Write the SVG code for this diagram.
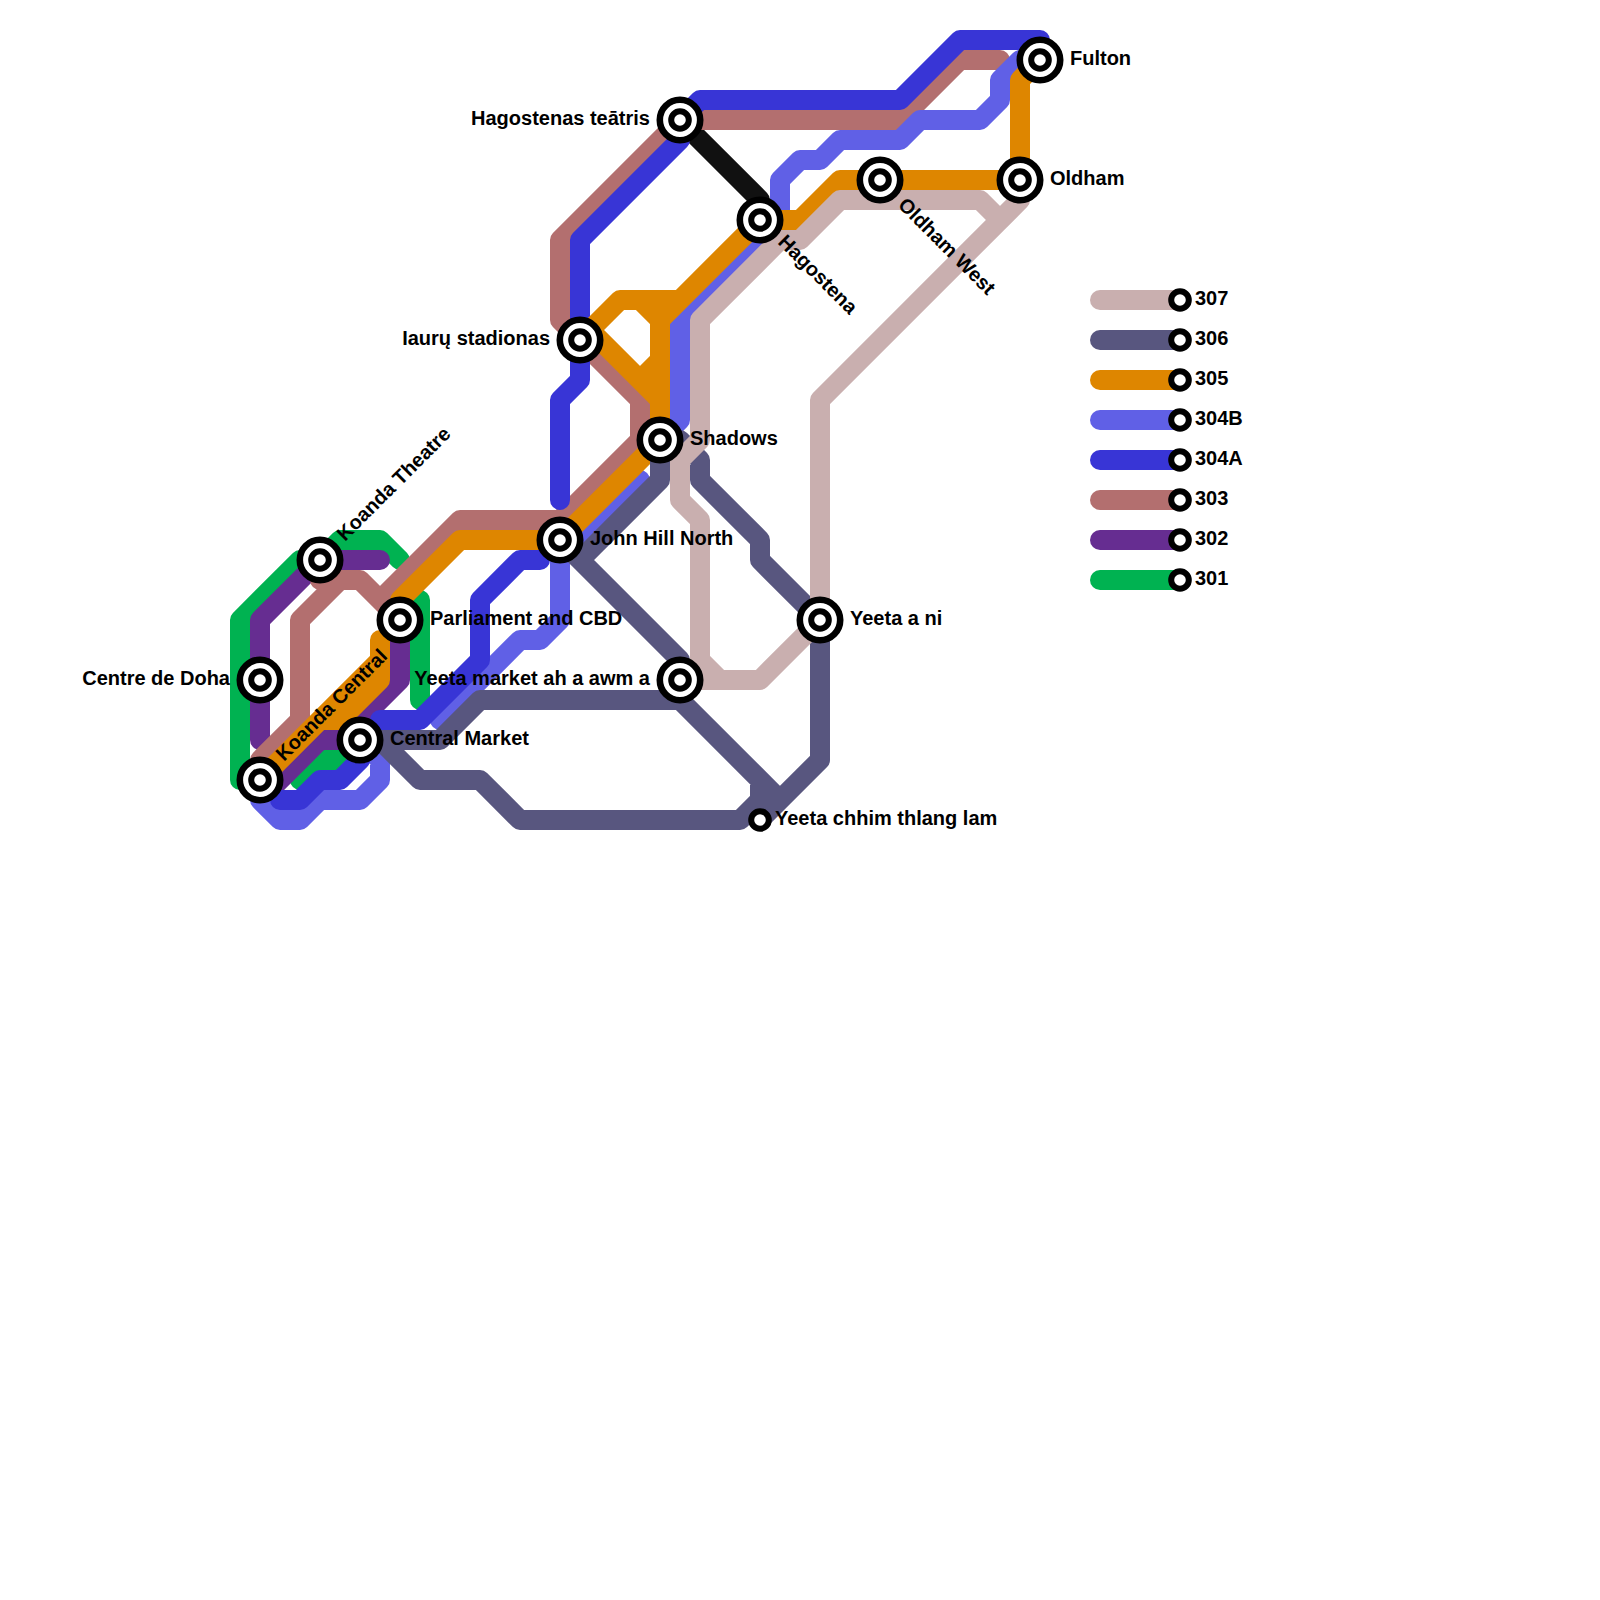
<svg xmlns="http://www.w3.org/2000/svg" width="1600" height="1600" viewBox="0 0 1600 1600">
<style>
.l{fill:none;stroke-width:20;stroke-linecap:round;stroke-linejoin:round}
.k{stroke:#111}.a{stroke:#00b251}.b{stroke:#662d91}.c{stroke:#b36f6f}.d{stroke:#6060e6}.e{stroke:#3835d6}.f{stroke:#de8600}.g{stroke:#58567f}.h{stroke:#c9afaf}
.s1{fill:#fff;stroke:#000;stroke-width:6}
.s2{fill:#fff;stroke:#000;stroke-width:6.6}
text{font-family:"Liberation Sans",Arial,sans-serif;font-weight:700;font-size:20px;fill:#000;dominant-baseline:central}
.r{text-anchor:end}
</style>
<defs>
<g id="st"><circle r="20.2" class="s2"/><circle r="8.8" class="s1"/></g>
<g id="sm"><circle r="8.8" class="s1"/></g>
</defs>
<g id="connectors">
<path class="l k" d="M680,120L760,200V220"/>
<path class="l a" d="M240,780V620L300,560H320L340,540H380L400,560M420,600V700M360,740L340,760H320L300,780"/>
<path class="l b" d="M380,560H320L260,620V740M270,790L320,740H360V720L400,680V620"/>
<path class="l c" d="M1000,60H960L900,120H680L560,240V320L640,400V440L560,520H460L380,600M400,620L360,580H320V560M340,580L300,620V720L260,760V780"/>
<path class="l d" d="M1020,60L1000,80V100L980,120H920L900,140H840L820,160H800L780,180V220L680,320V420L660,440M360,740L380,760V780L360,800H320L300,820H280L260,800V780M640,480L560,560M560,540V620L540,640H520L440,720"/>
<path class="l e" d="M1040,60V40H960L900,100H700L680,120V140L580,240V380L560,400V500M540,560H520L480,600V660L420,720H380M360,740V760L340,780H320L300,800H280"/>
<path class="l f" d="M260,780L380,660V640V680L340,720H320M400,620V600L460,540H560L660,440V320L640,300H620L580,340M620,300H680L660,320L760,220H800L840,180H1020V80L1040,60M590,330L660,400M660,360L640,380"/>
<path class="l g" d="M660,440V480L580,560L560,540M580,560L680,660V680M680,700L780,800M760,780V800L740,820H520L480,780H420L380,740M360,740H440L480,700H680M760,820L820,760V620L760,560V540L700,480V460L680,440H660"/>
<path class="l h" d="M680,680H760L820,620V400L1020,200V180M980,200L1000,220M700,660L720,680M700,660V520L680,500V460L700,440V320L780,240H800L840,200H980"/>
</g>
<g id="legend">
<path class="l h" d="M1100,300H1180"/><path class="l g" d="M1100,340H1180"/><path class="l f" d="M1100,380H1180"/><path class="l d" d="M1100,420H1180"/><path class="l e" d="M1100,460H1180"/><path class="l c" d="M1100,500H1180"/><path class="l b" d="M1100,540H1180"/><path class="l a" d="M1100,580H1180"/>
<use href="#sm" x="1180" y="300"/><use href="#sm" x="1180" y="340"/><use href="#sm" x="1180" y="380"/><use href="#sm" x="1180" y="420"/><use href="#sm" x="1180" y="460"/><use href="#sm" x="1180" y="500"/><use href="#sm" x="1180" y="540"/><use href="#sm" x="1180" y="580"/>
<text x="1195" y="298">307</text><text x="1195" y="338">306</text><text x="1195" y="378">305</text><text x="1195" y="418">304B</text><text x="1195" y="458">304A</text><text x="1195" y="498">303</text><text x="1195" y="538">302</text><text x="1195" y="578">301</text>
</g>
<g id="n-fulton"><use href="#st" x="1040" y="60"/><text x="1070" y="58">Fulton</text></g>
<g id="n-oldham"><use href="#st" x="1020" y="180"/><text x="1050" y="178">Oldham</text></g>
<g id="n-oldham-west"><use href="#st" x="880" y="180"/><text transform="translate(902,201) rotate(45)">Oldham West</text></g>
<g id="n-hagostena"><use href="#st" x="760" y="220"/><text transform="translate(782,238) rotate(45)">Hagostena</text></g>
<g id="n-hagostenas-teatris"><use href="#st" x="680" y="120"/><text class="r" x="650" y="118">Hagostenas teātris</text></g>
<g id="n-iauru"><use href="#st" x="580" y="340"/><text class="r" x="550" y="338">Iaurų stadionas</text></g>
<g id="n-shadows"><use href="#st" x="660" y="440"/><text x="690" y="438">Shadows</text></g>
<g id="n-john-hill"><use href="#st" x="560" y="540"/><text x="590" y="538">John Hill North</text></g>
<g id="n-parliament"><use href="#st" x="400" y="620"/><text x="430" y="618">Parliament and CBD</text></g>
<g id="n-yeeta-ni"><use href="#st" x="820" y="620"/><text x="850" y="618">Yeeta a ni</text></g>
<g id="n-yeeta-market"><use href="#st" x="680" y="680"/><text class="r" x="650" y="678">Yeeta market ah a awm a</text></g>
<g id="n-doha"><use href="#st" x="260" y="680"/><text class="r" x="230" y="678">Centre de Doha</text></g>
<g id="n-central-market"><use href="#st" x="360" y="740"/><text x="390" y="738">Central Market</text></g>
<g id="n-chhim"><use href="#sm" x="760" y="820"/><text x="775" y="818">Yeeta chhim thlang lam</text></g>
<g id="n-koanda-theatre"><use href="#st" x="320" y="560"/><text transform="translate(340,537) rotate(-45)">Koanda Theatre</text></g>
<g id="n-koanda-central"><use href="#st" x="260" y="780"/><text transform="translate(279,757) rotate(-45)">Koanda Central</text></g>
</svg>
